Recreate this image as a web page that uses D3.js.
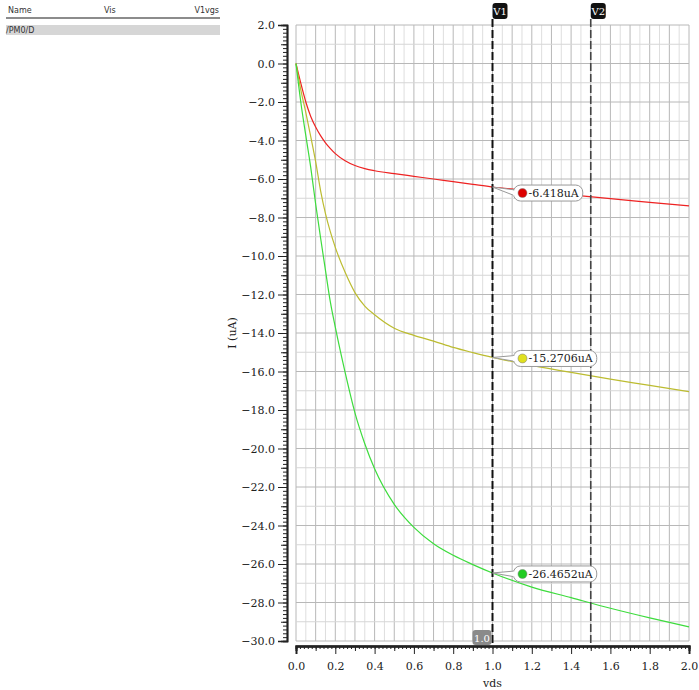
<!DOCTYPE html>
<html>
<head>
<meta charset="utf-8">
<script src="https://cdn.jsdelivr.net/npm/d3@7"></script>
<style>
  body { margin: 0; background: #fff; }
  svg text { font-family: "DejaVu Serif", serif; }
</style>
</head>
<body>
<div id="chart"></div>
<script>
// sweep points (vds, V) and currents (uA)
const vds = [0, 0.025, 0.05, 0.075, 0.1, 0.125, 0.15, 0.175, 0.2, 0.25, 0.3, 0.35, 0.4, 0.5, 0.6, 0.7, 0.8, 0.9, 1.0, 1.2, 1.4, 1.6, 1.8, 2.0];
const iRed = [0, -1.05, -2.0, -2.75, -3.3, -3.75, -4.12, -4.42, -4.68, -5.05, -5.3, -5.46, -5.57, -5.72, -5.86, -6.0, -6.14, -6.28, -6.418, -6.62, -6.82, -7.02, -7.21, -7.4];
const iYellow = [0, -1.4, -2.55, -3.8, -5.1, -6.6, -7.8, -8.75, -9.55, -10.85, -11.9, -12.6, -13.05, -13.75, -14.12, -14.42, -14.75, -15.02, -15.2706, -15.68, -16.05, -16.4, -16.72, -17.05];
const iGreen = [0, -2.05, -3.75, -5.4, -7.3, -9.05, -10.75, -12.4, -13.7, -16.05, -18.15, -19.75, -21.05, -22.9, -24.1, -24.95, -25.55, -26.03, -26.4652, -27.2, -27.75, -28.3, -28.8, -29.27];
const seriesColors = ["#ee2222", "#bcbc30", "#3ddc3d"];
const markerFill = ["#dd0000", "#e0e020", "#22cc22"];

const yTickLabels = d3.range(2, -30.01, -2);
const xTickLabels = d3.range(0, 2.001, 0.2);
const cursors = [{ name: "V1", x: 1.0 }, { name: "V2", x: 1.5 }];
const markerValues = [-6.418, -15.2706, -26.4652];

const W = 699, H = 690;
const svg = d3.select("#chart").append("svg").attr("width", W).attr("height", H);

const x = d3.scaleLinear().domain([0, 2]).range([296, 689]);
const y = d3.scaleLinear().domain([-30, 2]).range([641, 25]);

// left table header
svg.append("text").attr("x", 8).attr("y", 13).text("Name")
  .style("font-family", "DejaVu Sans").style("font-size", "8px").attr("fill", "#333");
svg.append("text").attr("x", 104).attr("y", 13).text("Vis")
  .style("font-family", "DejaVu Sans").style("font-size", "8px").attr("fill", "#333");
svg.append("text").attr("x", 219).attr("y", 13).attr("text-anchor", "end").text("V1vgs")
  .style("font-family", "DejaVu Sans").style("font-size", "8px").attr("fill", "#333");
svg.append("line").attr("x1", 6).attr("x2", 220).attr("y1", 18).attr("y2", 18)
  .attr("stroke", "#666").attr("stroke-width", 1.5);
svg.append("rect").attr("x", 6).attr("y", 25).attr("width", 214).attr("height", 10).attr("fill", "#d6d6d6");
svg.append("text").attr("x", 6).attr("y", 33).text("/PM0/D")
  .style("font-family", "DejaVu Sans").style("font-size", "8px").attr("fill", "#333");

// grid
const grid = svg.append("g");
d3.range(0, 2.0001, 0.05).forEach((v, i) => {
  grid.append("line").attr("x1", x(v)).attr("x2", x(v)).attr("y1", y(2)).attr("y2", y(-30))
    .attr("stroke", i % 2 === 0 ? "#b8b8b8" : "#dedede").attr("stroke-width", 1);
});
d3.range(2, -30.01, -1).forEach((v, i) => {
  grid.append("line").attr("x1", x(0)).attr("x2", x(2)).attr("y1", y(v)).attr("y2", y(v))
    .attr("stroke", i % 2 === 0 ? "#b8b8b8" : "#d6d6d6").attr("stroke-width", 1);
});

// y axis with minor ticks
const yAxisX = 287;
const yMinor = svg.append("g").attr("transform", `translate(${yAxisX},0)`)
  .call(d3.axisLeft(y).tickValues(d3.range(2, -30.01, -0.2)).tickSize(4).tickFormat(""));
const yMid = svg.append("g").attr("transform", `translate(${yAxisX},0)`)
  .call(d3.axisLeft(y).tickValues(d3.range(1, -30, -2)).tickSize(6).tickFormat(""));
const yMajor = svg.append("g").attr("transform", `translate(${yAxisX},0)`)
  .call(d3.axisLeft(y).tickValues(yTickLabels).tickSize(9).tickPadding(3).tickFormat(d3.format(".1f")));
[yMinor, yMid, yMajor].forEach(g => {
  g.select(".domain").attr("stroke", "#222").attr("stroke-width", 1.5);
  g.selectAll(".tick line").attr("stroke", "#222");
});
yMajor.selectAll(".tick text").style("font-size", "11px").style("font-family", "DejaVu Serif").attr("fill", "#222");

// x axis with minor ticks
const xAxisY = 646;
const xMinor = svg.append("g").attr("transform", `translate(0,${xAxisY})`)
  .call(d3.axisBottom(x).tickValues(d3.range(0, 2.001, 0.02)).tickSize(3).tickFormat(""));
const xMid = svg.append("g").attr("transform", `translate(0,${xAxisY})`)
  .call(d3.axisBottom(x).tickValues(d3.range(0.1, 2, 0.2)).tickSize(5).tickFormat(""));
const xMajor = svg.append("g").attr("transform", `translate(0,${xAxisY})`)
  .call(d3.axisBottom(x).tickValues(xTickLabels).tickSize(8).tickPadding(8).tickFormat(d3.format(".1f")));
[xMinor, xMid, xMajor].forEach(g => {
  g.select(".domain").attr("stroke", "#222").attr("stroke-width", 2);
  g.selectAll(".tick line").attr("stroke", "#222");
});
xMajor.selectAll(".tick text").style("font-size", "11px").style("font-family", "DejaVu Serif").attr("fill", "#222");

// axis titles
svg.append("text").attr("transform", `translate(236,${y(-14)}) rotate(-90)`)
  .attr("text-anchor", "middle").style("font-size", "11px").attr("fill", "#222").text("I (uA)");
svg.append("text").attr("x", x(1)).attr("y", 687).attr("text-anchor", "middle")
  .style("font-size", "11px").attr("fill", "#222").text("vds");

// curves
const line = d3.line().x(d => x(d[0])).y(d => y(d[1])).curve(d3.curveMonotoneX);
[iRed, iYellow, iGreen].forEach((s, k) => {
  svg.append("path").datum(vds.map((v, i) => [v, s[i]]))
    .attr("d", line).attr("fill", "none").attr("stroke", seriesColors[k]).attr("stroke-width", 1.2);
});

// cursors
cursors.forEach((c, i) => {
  svg.append("line").attr("x1", x(c.x)).attr("x2", x(c.x)).attr("y1", 19).attr("y2", xAxisY)
    .attr("stroke", i === 0 ? "#111" : "#444").attr("stroke-width", i === 0 ? 2 : 1.6)
    .attr("stroke-dasharray", "8,3");
  svg.append("rect").attr("x", x(c.x)).attr("y", 3).attr("width", 15).attr("height", 16)
    .attr("rx", 3).attr("fill", "#111");
  svg.append("text").attr("x", x(c.x) + 7.5).attr("y", 15).attr("text-anchor", "middle")
    .style("font-size", "10px").attr("fill", "#fff").text(c.name);
});

// cursor value tag on x axis
svg.append("rect").attr("x", x(1) - 20).attr("y", 630).attr("width", 19).attr("height", 15)
  .attr("rx", 3).attr("fill", "#8a8a8a");
svg.append("text").attr("x", x(1) - 10.5).attr("y", 642).attr("text-anchor", "middle")
  .style("font-size", "10px").attr("fill", "#fff").text("1.0");

// markers with callouts
markerValues.forEach((v, k) => {
  const px = x(cursors[0].x), py = y(v);
  const label = v + "uA";
  const bx = px + 21, by = py - 7 + (k === 0 ? 5 : 0);
  const bh = 16;
  const g = svg.append("g");
  const wedge = g.append("path")
    .attr("d", `M${px},${py} L${bx + 2},${by + 5} L${bx + 2},${by + 11} Z`)
    .attr("fill", "#fff").attr("stroke", "#999").attr("stroke-width", 1);
  const box = g.append("rect").attr("x", bx).attr("y", by).attr("height", bh)
    .attr("rx", 7).attr("fill", "#fff").attr("stroke", "#999").attr("stroke-width", 1);
  g.append("path").attr("d", `M${bx + 0.5},${by + 5.5} L${bx + 0.5},${by + 10.5}`)
    .attr("stroke", "#fff").attr("stroke-width", 2);
  g.append("circle").attr("cx", bx + 9).attr("cy", by + bh / 2).attr("r", 4.5)
    .attr("fill", markerFill[k]).attr("stroke", "#777").attr("stroke-width", 0.5);
  const t = g.append("text").attr("x", bx + 15).attr("y", by + 12)
    .style("font-size", "11px").attr("fill", "#222").text(label);
  box.attr("width", 15 + t.node().getComputedTextLength() + 4);
});
</script>
</body>
</html>
